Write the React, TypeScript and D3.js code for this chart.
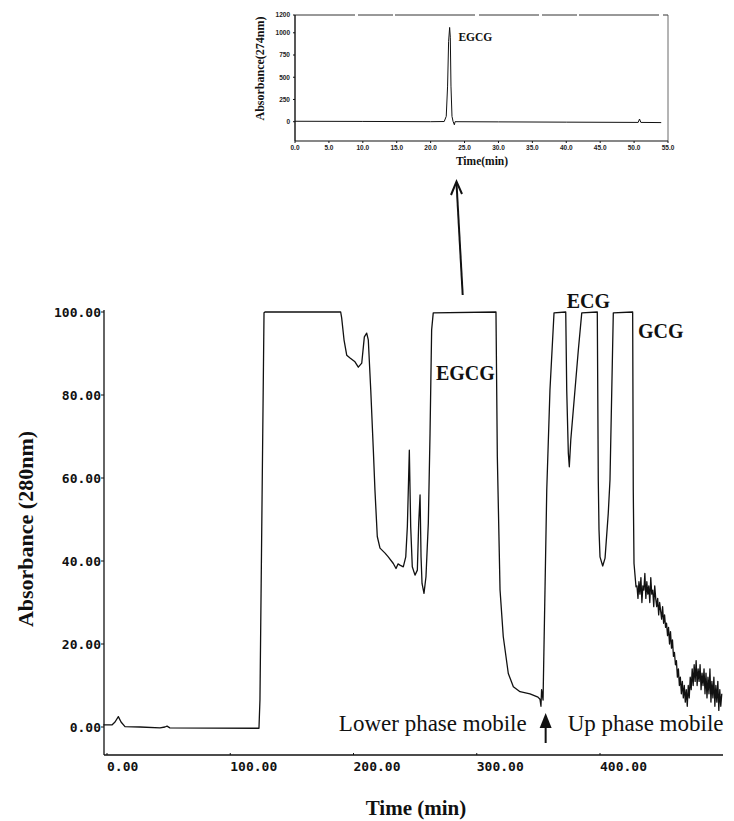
import * as d3 from "d3";

const W = 734;
const H = 821;

// main run: time (min) vs absorbance at 280 nm
const mainTime = [
  -3, 4, 6.5, 9.2, 11.4, 14.6, 26.8, 43, 47, 48.7, 51, 122.5, 123.3, 124.1, 125.8, 127.4, 128.2,
  189.6, 190.4, 192.3, 194.5, 197.2, 201.2, 203.9, 206.7, 208.8, 210.7, 212.0, 214.0, 216.1,
  217.4, 219.3, 221.5, 225.6, 228.2, 232.3, 234.5, 236.1, 237.7, 240.4, 242.4, 243.7, 245.3,
  246.4, 247.7, 249.9, 251.8, 252.9, 254.0, 254.8, 255.6, 257.2, 258.8, 260.7, 262.1, 263.4,
  264.7, 315.6, 316.7, 318.9, 321.5, 325.6, 329.7, 335.1, 343.2, 349.7, 351.3, 352.1, 352.6,
  353.8, 356.8, 359.4, 362.7, 372.2, 373.0, 374.3, 375.1, 376.3, 379.7, 382.4, 385.2, 397.8,
  398.6, 399.2, 400, 402.2, 404.1, 406.7, 408.1, 410.8, 426.5, 427.0, 427.6, 429.2,
];
const mainAbs = [
  0.5, 0.5, 1.2, 2.5, 1.2, 0.1, 0, -0.2, 0, 0.2, -0.2, -0.3, -0.3, 6.5, 54.7, 99.8, 100,
  100, 98.6, 93.3, 89.6, 88.9, 88.0, 86.7, 87.7, 94.0, 94.9, 93.3, 81.2, 66.7,
  57.1, 45.9, 43.1, 41.9, 41.0, 39.4, 38.2, 39.3, 39.0, 38.6, 41.0, 48.3, 66.7,
  48.3, 38.6, 36.6, 37.8, 49.1, 55.9, 41.0, 34.6, 32.2, 36.2, 49.1, 70.8, 95.7,
  99.8, 100, 65.1, 33.0, 21.8, 12.9, 9.7, 8.5, 8.0, 7.2, 6.7, 5.0, 9.0,
  6.5, 57.1, 81.2, 99.8, 100, 81.2, 66.0, 62.7, 69.2, 81.2, 90.8, 99.8, 100,
  59.5, 47.5, 41.0, 38.8, 40.7, 51.5, 59.5, 99.8, 100, 57.1, 39.4, 33.8,
];

// noisy stretch after GCG, one reading every 0.8 min from 430 min
const tailStart = 430;
const tailStep = 0.8;
const tailAbs = [
  34, 31, 35, 32, 36, 30, 34, 33, 37, 31,
  35, 32, 34, 30, 36, 32, 33, 29, 34, 31,
  29, 31, 27, 30, 28, 26, 29, 25, 27, 24,
  25, 22, 24, 20, 23, 19, 21, 17, 18, 15,
  16, 12, 14, 10, 12, 8, 11, 7, 10, 6,
  9, 5, 10, 7, 12, 9, 14, 10, 15, 11,
  16, 10, 14, 11, 15, 9, 13, 10, 14, 8,
  13, 7, 12, 8, 14, 6, 11, 7, 12, 5,
  10, 6, 11, 4, 9, 5, 8,
];

const mainYTicks = [0, 20, 40, 60, 80, 100];
const mainXTicks = [0, 100, 200, 300, 400];

// HPLC check of the EGCG fraction, absorbance at 274 nm
const insetTime = [
  0, 10, 20, 22.0, 22.3, 22.5, 22.65, 22.8, 22.9, 23.0, 23.15, 23.3, 23.5, 23.6, 30, 40, 50.6,
  50.8, 51.0, 54,
];
const insetAbs = [
  5, 3, 0, 2, 60, 400, 900, 1060, 950, 400, 60, 5, -35, 0, -2, -5, -8, 30, -8, -10,
];
const insetYTicks = [0, 250, 500, 750, 1000, 1200];
const insetXTicks = [0, 5, 10, 15, 20, 25, 30, 35, 40, 45, 50, 55];

const SERIF = "'Liberation Serif', 'Times New Roman', serif";
const MONO = "'DejaVu Sans Mono', monospace";
const SANS = "'Liberation Sans', Arial, sans-serif";

export default function App() {
  // main chart
  const xMain = d3.scaleLinear().domain([0, 400]).range([107, 600]);
  const yMain = d3.scaleLinear().domain([0, 100]).range([727, 312]);
  const axisX = 104;
  const axisY = 755;
  const axisRight = 723;

  const mainPts: [number, number][] = mainTime.map((t, i) => [t, mainAbs[i]]);
  tailAbs.forEach((a, i) => mainPts.push([tailStart + i * tailStep, a]));
  const mainLine = d3
    .line<[number, number]>()
    .x((d) => xMain(d[0]))
    .y((d) => yMain(d[1]));

  // inset
  const xIn = d3.scaleLinear().domain([0, 55]).range([295, 668]);
  const yIn = d3.scaleLinear().domain([0, 1200]).range([121.7, 15]);
  const inBottom = 141;
  const inPts: [number, number][] = insetTime.map((t, i) => [t, insetAbs[i]]);
  const inLine = d3
    .line<[number, number]>()
    .x((d) => xIn(d[0]))
    .y((d) => yIn(d[1]));
  const fmt2 = d3.format(".2f");
  const fmt1 = d3.format(".1f");

  const arrowX = xMain(355.9);

  return (
    <svg
      width={W}
      height={H}
      style={{ position: "absolute", left: 0, top: 0, background: "#fff" }}
    >
      {/* ---------- inset ---------- */}
      <g>
        <line x1={xIn(0)} x2={xIn(55)} y1={yIn(1200)} y2={yIn(1200)} stroke="#333" strokeWidth={1} strokeDasharray="60,3,35,2,80,4" />
        <line x1={xIn(55)} x2={xIn(55)} y1={yIn(1200)} y2={inBottom} stroke="#444" strokeWidth={0.8} />
        <line x1={xIn(0)} x2={xIn(0)} y1={yIn(1200)} y2={inBottom} stroke="#111" strokeWidth={1.4} />
        <line x1={xIn(0)} x2={xIn(55)} y1={inBottom} y2={inBottom} stroke="#111" strokeWidth={1.2} />
        {insetYTicks.map((v) => (
          <g key={v}>
            <line x1={xIn(0) - 2} x2={xIn(0)} y1={yIn(v)} y2={yIn(v)} stroke="#111" />
            <text x={xIn(0) - 5} y={yIn(v)} dy="0.35em" textAnchor="end" fontSize={6.5} fontWeight="bold" fontFamily={SANS} fill="#222">
              {v}
            </text>
          </g>
        ))}
        {insetXTicks.map((v) => (
          <g key={v}>
            <line x1={xIn(v)} x2={xIn(v)} y1={inBottom} y2={inBottom + 2} stroke="#111" />
            <text x={xIn(v)} y={inBottom + 8.5} textAnchor="middle" fontSize={6.5} fontWeight="bold" fontFamily={SANS} fill="#222">
              {fmt1(v)}
            </text>
          </g>
        ))}
        <path d={inLine(inPts) ?? ""} fill="none" stroke="#111" strokeWidth={1} />
        <text x={xIn(24.1)} y={40.5} fontSize={11.5} fontWeight="bold" fontFamily={SERIF} fill="#111">
          EGCG
        </text>
        <text x={482} y={165} textAnchor="middle" fontSize={11.5} fontWeight="bold" fontFamily={SERIF} fill="#111">
          Time(min)
        </text>
        <text
          transform={`translate(264, ${(15 + 122) / 2}) rotate(-90)`}
          textAnchor="middle"
          fontSize={12}
          fontWeight="bold"
          fontFamily={SERIF}
          fill="#111"
        >
          Absorbance(274nm)
        </text>
      </g>

      {/* arrow from main EGCG band up to the inset */}
      <line x1={xMain(288.6)} y1={yMain(104.1)} x2={456.5} y2={183} stroke="#111" strokeWidth={2} />
      <path d="M451,195 L456.5,181.5 L462,194" fill="none" stroke="#111" strokeWidth={2} />

      {/* ---------- main chart ---------- */}
      <line x1={axisX} x2={axisX} y1={yMain(100.5)} y2={axisY} stroke="#111" strokeWidth={1.3} />
      <line x1={axisX} x2={axisRight} y1={axisY} y2={axisY} stroke="#111" strokeWidth={1.3} />
      {mainYTicks.map((v) => (
        <g key={v}>
          <line x1={axisX - 3} x2={axisX} y1={yMain(v)} y2={yMain(v)} stroke="#111" />
          <text x={axisX - 3} y={yMain(v)} dy="0.38em" textAnchor="end" fontSize={13} fontWeight="bold" fontFamily={MONO} fill="#111">
            {fmt2(v)}
          </text>
        </g>
      ))}
      {mainXTicks.map((v) => (
        <g key={v}>
          <line x1={xMain(v)} x2={xMain(v)} y1={axisY} y2={axisY - 2} stroke="#111" />
          <text x={xMain(v)} y={axisY + 16} fontSize={13} fontWeight="bold" fontFamily={MONO} fill="#111">
            {fmt2(v)}
          </text>
        </g>
      ))}

      <path d={mainLine(mainPts) ?? ""} fill="none" stroke="#111" strokeWidth={1.3} strokeLinejoin="round" />

      {/* peak labels */}
      <text x={xMain(266.9)} y={yMain(83.6)} fontSize={20} fontWeight="bold" fontFamily={SERIF} fill="#111">
        EGCG
      </text>
      <text x={xMain(373)} y={yMain(100.9)} fontSize={20} fontWeight="bold" fontFamily={SERIF} fill="#111">
        ECG
      </text>
      <text x={xMain(430.8)} y={yMain(93.8)} fontSize={20} fontWeight="bold" fontFamily={SERIF} fill="#111">
        GCG
      </text>

      {/* mobile phase switch */}
      <text x={arrowX - 19} y={yMain(-1)} textAnchor="end" fontSize={23} fontFamily={SERIF} fill="#111">
        Lower phase mobile
      </text>
      <text x={arrowX + 22} y={yMain(-1)} fontSize={23} fontFamily={SERIF} fill="#111">
        Up phase mobile
      </text>
      <path d={`M${arrowX},713 L${arrowX - 6},728 L${arrowX + 6},728 Z`} fill="#111" />
      <line x1={arrowX} x2={arrowX} y1={726} y2={743} stroke="#111" strokeWidth={2} />

      {/* axis titles */}
      <text
        transform={`translate(33, 529) rotate(-90)`}
        textAnchor="middle"
        fontSize={22}
        fontWeight="bold"
        fontFamily={SERIF}
        fill="#111"
      >
        Absorbance (280nm)
      </text>
      <text x={416} y={815} textAnchor="middle" fontSize={21} fontWeight="bold" fontFamily={SERIF} fill="#111">
        Time (min)
      </text>
    </svg>
  );
}
